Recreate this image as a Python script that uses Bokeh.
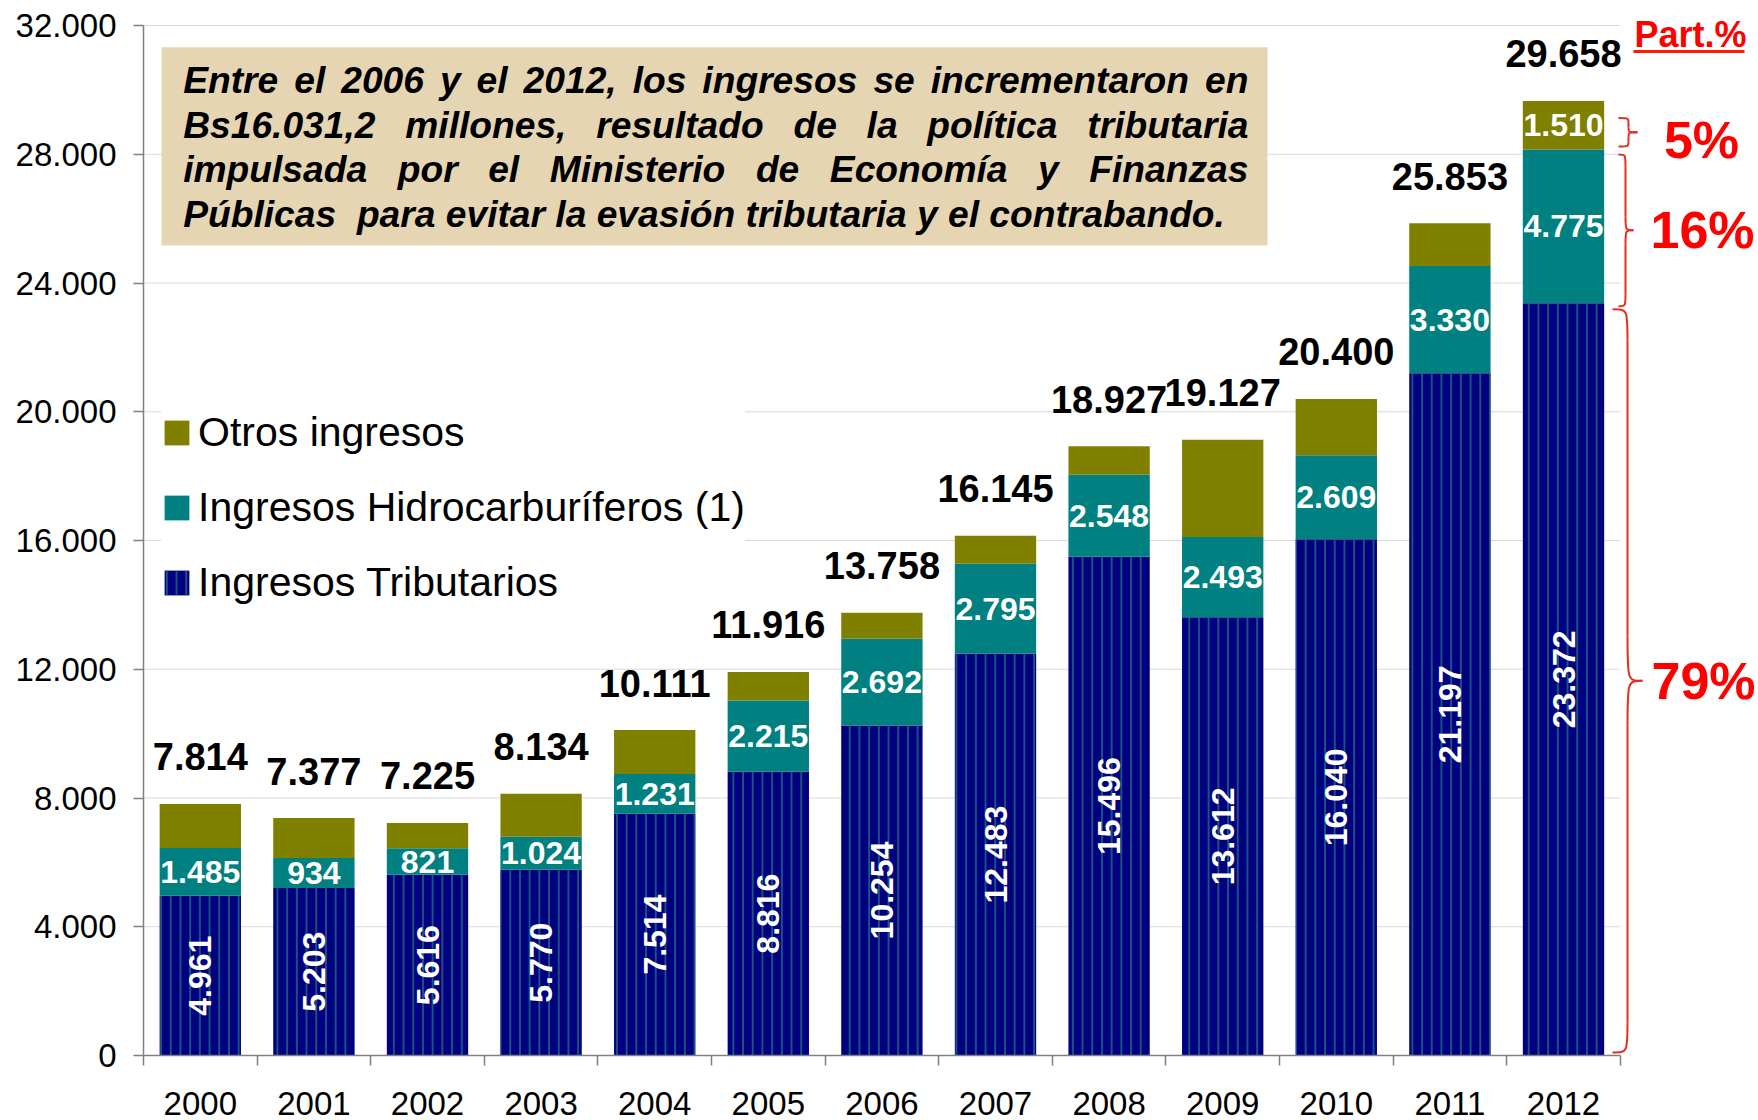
import math
from bokeh.plotting import figure
from bokeh.models import Range1d, FixedTicker, Legend, LegendItem, ColumnDataSource
from bokeh.core.properties import value
from bokeh.embed import file_html
from bokeh.resources import INLINE

# ---------------- data ----------------
years = ["2000", "2001", "2002", "2003", "2004", "2005", "2006",
         "2007", "2008", "2009", "2010", "2011", "2012"]
tributarios = [4961, 5203, 5616, 5770, 7514, 8816, 10254, 12483, 15496, 13612, 16040, 21197, 23372]
hidrocarburiferos = [1485, 934, 821, 1024, 1231, 2215, 2692, 2795, 2548, 2493, 2609, 3330, 4775]
otros = [1368, 1240, 788, 1340, 1366, 885, 812, 867, 883, 3022, 1751, 1326, 1510]
totales = [7814, 7377, 7225, 8134, 10111, 11916, 13758, 16145, 18927, 19127, 20400, 25853, 29658]
otros_labels = ["", "", "", "", "", "", "", "", "", "", "", "", "1.510"]
y_ticks = [0, 4000, 8000, 12000, 16000, 20000, 24000, 28000, 32000]
y_tick_labels = ["0", "4.000", "8.000", "12.000", "16.000", "20.000", "24.000", "28.000", "32.000"]
series_names = ["Ingresos Tributarios", "Ingresos Hidrocarburíferos (1)", "Otros ingresos"]
note_lines = [
    "Entre el 2006 y el 2012, los ingresos se incrementaron en",
    "Bs16.031,2 millones, resultado de la política tributaria",
    "impulsada por el Ministerio de Economía y Finanzas",
    "Públicas  para evitar la evasión tributaria y el contrabando.",
]
part_title = "Part.%"

# ---------------- layout constants ----------------
W, H = 1758, 1120
ML, MT, MR, MB = 143, 16, 0, 65
FW = W - ML - MR
FH = H - MT - MB
DPX = 32000 / 1030.0          # data units per pixel (y)
Y_END = FH * DPX
PXU = 113.6                   # pixels per category
X_END = FW / PXU
FONT = "Liberation Sans"

def X(px):  # page px -> data x
    return (px - ML) / PXU - 0.5

def Y(py):  # page px -> data y
    return (MT + FH - py) * DPX

def fmt(v):
    return f"{v:,}".replace(",", ".")

# Helvetica/Arial bold widths (per 1000 em)
WB = {}
for chars, w in [(" ,.íIijlÍ", 278), ("ft()-:;!", 333), ("r", 389), ("z", 500),
                 ("acekvxyáésJ0123456789", 556), ("bdghnopquúóFLTZñ", 611),
                 ("EPSVXY", 667), ("ABCDHKNRU", 722), ("GOQw", 778), ("M", 833),
                 ("m%", 889), ("W", 944)]:
    for c in chars:
        WB[c] = w

def tw(s, size):
    return sum(WB.get(c, 556) for c in s) * size / 1000.0

# ---------------- figure ----------------
p = figure(width=W, height=H, x_range=Range1d(-0.5, X_END - 0.5), y_range=Range1d(0, Y_END),
           output_backend="svg", toolbar_location=None,
           min_border_left=ML, min_border_right=MR, min_border_top=MT, min_border_bottom=MB,
           background_fill_color="white", border_fill_color="white")
p.outline_line_color = None
p.xgrid.visible = False
p.ygrid.visible = False

n = len(years)
xs = list(range(n))

# gridlines
p.segment(x0=[-0.5] * (len(y_ticks) - 1), x1=[n - 0.5] * (len(y_ticks) - 1),
          y0=y_ticks[1:], y1=y_ticks[1:], line_color="#d9d9d9", line_width=1, level="underlay")

src = ColumnDataSource(dict(x=xs, trib=tributarios, hidro=hidrocarburiferos, otros=otros))
rs = p.vbar_stack(["trib", "hidro", "otros"], x="x", width=0.716, source=src,
                  fill_color=["#000080", "#008080", "#808000"], line_color=None,
                  hatch_pattern=["|", " ", " "], hatch_color="#236b80",
                  hatch_weight=1.5, hatch_scale=9.7)

# segment labels
p.text(x=xs, y=[t / 2 for t in tributarios], text=[fmt(t) for t in tributarios],
       angle=math.pi / 2, text_align="center", text_baseline="middle",
       text_color="white", text_font=value(FONT), text_font_style="bold", text_font_size="32px")
p.text(x=xs, y=[t + h / 2 for t, h in zip(tributarios, hidrocarburiferos)],
       text=[fmt(h) for h in hidrocarburiferos], text_align="center", text_baseline="middle",
       text_color="white", text_font=value(FONT), text_font_style="bold", text_font_size="32px")
p.text(x=xs, y=[t + h + o / 2 for t, h, o in zip(tributarios, hidrocarburiferos, otros)],
       text=otros_labels, text_align="center", text_baseline="middle",
       text_color="white", text_font=value(FONT), text_font_style="bold", text_font_size="32px")
# totals
p.text(x=xs, y=totales, text=[fmt(t) for t in totales], y_offset=-47,
       text_align="center", text_baseline="middle", text_color="black",
       text_font=value(FONT), text_font_style="bold", text_font_size="38px")

# ---------------- note box ----------------
p.quad(left=[X(161)], right=[X(1267)], top=[Y(46.7)], bottom=[Y(245)],
       fill_color="#e6d5b3", line_color=None)
NOTE_SIZE = 37.2
L0, L1 = 182.7, 1248.0
wx, wy, wt = [], [], []
for i, line in enumerate(note_lines):
    center = 79.8 + i * 44.5
    if i < len(note_lines) - 1:
        words = line.split()
        widths = [tw(w_, NOTE_SIZE) for w_ in words]
        gap = (L1 - L0 - sum(widths)) / (len(words) - 1)
        cur = L0
        for w_, ww in zip(words, widths):
            wx.append(X(cur)); wy.append(Y(center)); wt.append(w_)
            cur += ww + gap
    else:
        # last line is left aligned; keep its double space by splitting there
        cur = L0
        for chunk in line.split("  "):
            wx.append(X(cur)); wy.append(Y(center)); wt.append(chunk)
            cur += tw(chunk, NOTE_SIZE) + tw("  ", NOTE_SIZE)
p.text(x=wx, y=wy, text=wt, text_align="left", text_baseline="middle",
       text_color="black", text_font=value(FONT), text_font_style="bold italic",
       text_font_size=f"{NOTE_SIZE}px")

# ---------------- braces & percentages (2012) ----------------
t, h, o = tributarios[-1], hidrocarburiferos[-1], otros[-1]
tot = t + h + o
braces = [
    # (y_bot, y_top, x_end, x_mid, x_tip, r_end px, r_tip px)
    (0 + 3 * DPX, t - 6 * DPX, X(1612), X(1627), X(1642), 30, 45),
    (t - 3 * DPX, t + h - 5 * DPX, X(1618), X(1625), X(1633), 12, 14),
    (t + h + 3 * DPX, tot - 17 * DPX, X(1618), X(1628), X(1637), 5, 5),
]
bz = dict(x0=[], y0=[], x1=[], y1=[], cx0=[], cy0=[], cx1=[], cy1=[])
sg = dict(x0=[], y0=[], x1=[], y1=[])
def add_bz(a, b, c):
    bz["x0"].append(a[0]); bz["y0"].append(a[1]); bz["x1"].append(b[0]); bz["y1"].append(b[1])
    bz["cx0"].append(c[0]); bz["cy0"].append(c[1]); bz["cx1"].append(c[0]); bz["cy1"].append(c[1])
def add_sg(a, b):
    sg["x0"].append(a[0]); sg["y0"].append(a[1]); sg["x1"].append(b[0]); sg["y1"].append(b[1])
for yb, yt, xe, xm, xt, r1, r2 in braces:
    ym = (yb + yt) / 2
    r1d, r2d = r1 * DPX, r2 * DPX
    add_bz((xe, yt), (xm, yt - r1d), (xm, yt))
    add_sg((xm, yt - r1d), (xm, ym + r2d))
    add_bz((xm, ym + r2d), (xt, ym), (xm, ym))
    add_bz((xt, ym), (xm, ym - r2d), (xm, ym))
    add_sg((xm, ym - r2d), (xm, yb + r1d))
    add_bz((xm, yb + r1d), (xe, yb), (xm, yb))
p.bezier(source=ColumnDataSource(bz), x0="x0", y0="y0", x1="x1", y1="y1",
         cx0="cx0", cy0="cy0", cx1="cx1", cy1="cy1", line_color="#e0301e", line_width=2)
p.segment(source=ColumnDataSource(sg), x0="x0", y0="y0", x1="x1", y1="y1",
          line_color="#e0301e", line_width=2)

shares = [o, h, t]
pct_text = [f"{round(100 * v / tot)}%" for v in shares]
p.text(x=[X(1701), X(1702), X(1703)], y=[Y(139.5), Y(229), Y(680)], text=pct_text,
       text_align="center", text_baseline="middle", text_color="#ff0000",
       text_font=value(FONT), text_font_style="bold", text_font_size="52px")
p.text(x=[X(1690)], y=[Y(34)], text=[part_title], text_align="center",
       text_baseline="middle", text_color="#ff0000", text_font=value(FONT),
       text_font_style="bold", text_font_size="36px")
p.segment(x0=[X(1633)], x1=[X(1744)], y0=[Y(51)], y1=[Y(51)], line_color="#ff1a00", line_width=3)

# ---------------- axes ----------------
p.yaxis.ticker = FixedTicker(ticks=y_ticks)
p.yaxis.major_label_overrides = {tk: lb for tk, lb in zip(y_ticks, y_tick_labels)}
p.yaxis.bounds = (0, 32000)
p.yaxis.minor_tick_line_color = None
p.yaxis.major_tick_out = 10
p.yaxis.major_tick_in = 0
p.yaxis.major_label_standoff = 17
for ax in (p.xaxis, p.yaxis):
    ax.axis_line_color = "#808080"
    ax.axis_line_width = 1.5
    ax.major_label_text_font = FONT
    ax.major_label_text_font_size = "33px"
    ax.major_label_text_color = "black"
p.yaxis.major_tick_line_color = "#808080"
p.yaxis.major_tick_line_width = 1.5

p.xaxis.ticker = FixedTicker(ticks=xs, minor_ticks=[i - 0.5 for i in range(n + 1)])
p.xaxis.major_label_overrides = {i: yr for i, yr in zip(xs, years)}
p.xaxis.bounds = (-0.5, n - 0.5)
p.xaxis.major_tick_line_color = None
p.xaxis.major_tick_out = 10
p.xaxis.major_tick_in = 0
p.xaxis.minor_tick_out = 10
p.xaxis.minor_tick_in = 0
p.xaxis.minor_tick_line_color = "#808080"
p.xaxis.minor_tick_line_width = 1.5
p.xaxis.major_label_text_line_height = 0.85
p.xaxis.major_label_standoff = 26

# ---------------- legend ----------------
legend = Legend(items=[LegendItem(label=value(series_names[2]), renderers=[rs[2]]),
                       LegendItem(label=value(series_names[1]), renderers=[rs[1]]),
                       LegendItem(label=value(series_names[0]), renderers=[rs[0]])],
                location=(18, 449), orientation="vertical",
                background_fill_color="white", background_fill_alpha=1.0,
                border_line_color=None, padding=15, spacing=28, margin=0,
                glyph_width=31, glyph_height=31, label_standoff=6, label_height=44,
                label_text_font=FONT, label_text_font_size="41px", label_text_color="black")
p.add_layout(legend)

open("out.html", "w").write(file_html(p, INLINE))
